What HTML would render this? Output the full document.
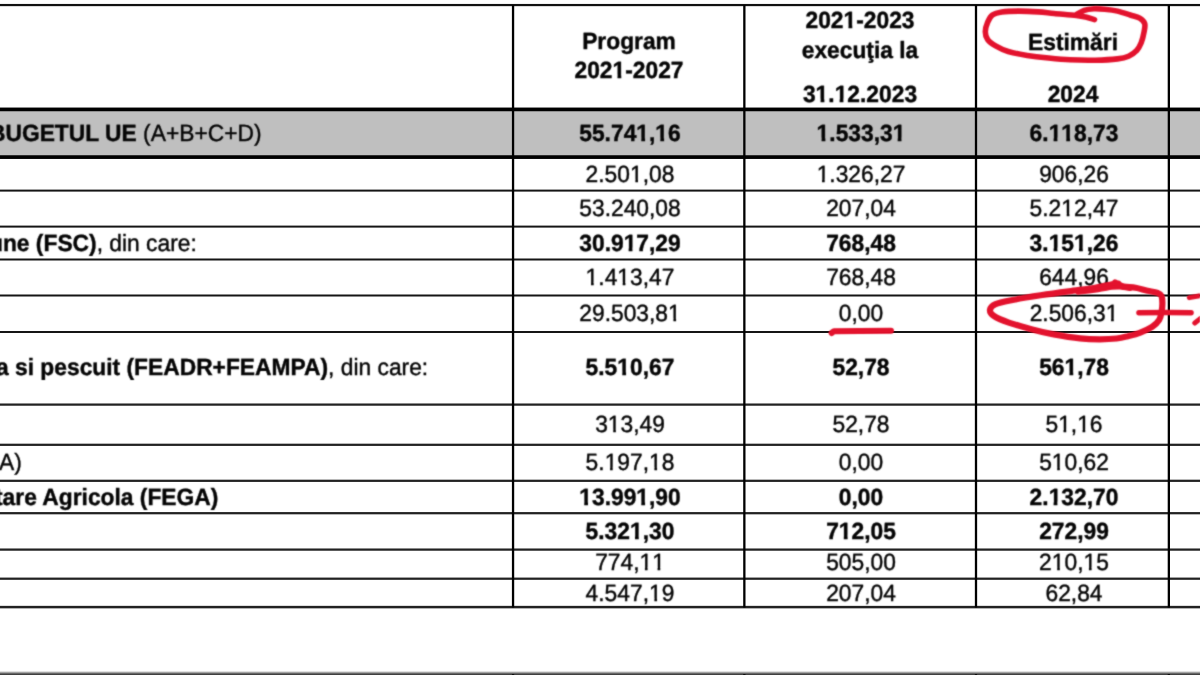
<!DOCTYPE html>
<html><head><meta charset="utf-8"><title>Tabel</title>
<style>
html,body{margin:0;padding:0;background:#fff;}
body{width:1200px;height:675px;overflow:hidden;position:relative;font-family:"Liberation Sans",sans-serif;color:#000;}
#bg,#pg{position:absolute;left:0;top:0;width:1200px;height:675px;}
#pg{filter:url(#soft);}
.h,.v,.t,.g{position:absolute;}
.t{font-size:22.8px;line-height:30px;height:30px;white-space:nowrap;font-kerning:none;color:#050505;-webkit-text-stroke:0.4px #050505;transform:matrix(1,0,0.0005,1.03,0,0);transform-origin:0 22.90px;}
.t i{display:inline-block;font-style:normal;clip-path:polygon(-1px -5px,14px -5px,14px 20.6px,8.05px 20.6px,8.05px 31px,5.43px 31px,5.43px 20.6px,-1px 20.6px);}
.t.b i{clip-path:polygon(-1px -5px,14px -5px,14px 19.8px,8.75px 19.8px,8.75px 31px,5.0px 31px,5.0px 19.8px,-1px 19.8px);}
.c{width:300px;margin-left:-150px;text-align:center;}
.b{font-weight:bold;}
.k{font-kerning:auto;}
svg{position:absolute;left:0;top:0;}
</style></head><body><svg width="0" height="0" style="position:absolute"><defs><filter id="soft" x="0" y="0" width="100%" height="100%" color-interpolation-filters="sRGB"><feConvolveMatrix order="3" kernelMatrix="0.04 0.1 0.04 0.1 0.44 0.1 0.04 0.1 0.04" edgeMode="duplicate" preserveAlpha="false"/></filter></defs></svg><div id="bg">
<div class="h" style="left:-20px;width:1240px;top:671px;height:24px;background:linear-gradient(to bottom,#ffffff 0px,#b0b0b0 1.3px,#6a6a6a 2.4px,#3c3c3c 3.6px,#333 24px)"></div>
<svg width="1200" height="675" viewBox="0 0 1200 675">
<rect x="-20" y="110" width="1240" height="46.5" fill="#bfbfbf"/>
<rect x="-20" y="3.95" width="1240" height="2.2" fill="#111"/>
<rect x="-20" y="107.55" width="1240" height="3.7" fill="#000"/>
<rect x="-20" y="155.25" width="1240" height="3.7" fill="#000"/>
<rect x="-20" y="189.6" width="1240" height="2" fill="#151515"/>
<rect x="-20" y="225.6" width="1240" height="2" fill="#151515"/>
<rect x="-20" y="258.5" width="1240" height="2" fill="#151515"/>
<rect x="-20" y="294.5" width="1240" height="2" fill="#151515"/>
<rect x="-20" y="331" width="1240" height="2" fill="#151515"/>
<rect x="-20" y="403.48" width="1240" height="2.25" fill="#222"/>
<rect x="-20" y="443.68" width="1240" height="2.25" fill="#222"/>
<rect x="-20" y="479.68" width="1240" height="2.25" fill="#222"/>
<rect x="-20" y="512.08" width="1240" height="2.25" fill="#222"/>
<rect x="-20" y="548.48" width="1240" height="2.25" fill="#222"/>
<rect x="-20" y="577.58" width="1240" height="2.25" fill="#222"/>
<rect x="-20" y="605.85" width="1240" height="2.5" fill="#222"/>
<rect x="511.9" y="5" width="2.3" height="602.5" fill="#000"/>
<rect x="743.2" y="5" width="2.3" height="602.5" fill="#000"/>
<rect x="974.85" y="5" width="2.3" height="602.5" fill="#000"/>
<rect x="1167.7" y="5" width="2.3" height="602.5" fill="#000"/>
<rect x="511.9" y="674.2" width="2.3" height="10" fill="#000"/>
<rect x="743.2" y="674.2" width="2.3" height="10" fill="#000"/>
<rect x="974.85" y="674.2" width="2.3" height="10" fill="#000"/>
<rect x="1167.7" y="674.2" width="2.3" height="10" fill="#000"/>
</svg>
</div><div id="pg">
<div class="t c b" style="left:628.7px;top:26.3px">Program</div>
<div class="t c b" style="left:628.7px;top:55.4px">202<i>1</i>-2027</div>
<div class="t c b" style="left:860.2px;top:4.7px">202<i>1</i>-2023</div>
<div class="t c b" style="left:860.2px;top:34.9px">execuţia la</div>
<div class="t c b" style="left:860.2px;top:78.6px">3<i>1</i>.<i>1</i>2.2023</div>
<div class="t c b" style="left:1073.2px;top:26.6px">Estimări</div>
<div class="t c b" style="left:1073.2px;top:78.6px">2024</div>
<div class="t c b" style="left:629.7px;top:118.2px">55.74<i>1</i>,<i>1</i>6</div>
<div class="t c b" style="left:861px;top:118.2px"><i>1</i>.533,3<i>1</i></div>
<div class="t c b" style="left:1074px;top:118.2px">6.<i>1</i><i>1</i>8,73</div>
<div class="t c" style="left:629.7px;top:159px">2.50<i>1</i>,08</div>
<div class="t c" style="left:861px;top:159px"><i>1</i>.326,27</div>
<div class="t c" style="left:1074px;top:159px">906,26</div>
<div class="t c" style="left:629.7px;top:193.4px">53.240,08</div>
<div class="t c" style="left:861px;top:193.4px">207,04</div>
<div class="t c" style="left:1074px;top:193.4px">5.2<i>1</i>2,47</div>
<div class="t c b" style="left:629.7px;top:227.6px">30.9<i>1</i>7,29</div>
<div class="t c b" style="left:861px;top:227.6px">768,48</div>
<div class="t c b" style="left:1074px;top:227.6px">3.<i>1</i>5<i>1</i>,26</div>
<div class="t c" style="left:629.7px;top:262.3px"><i>1</i>.4<i>1</i>3,47</div>
<div class="t c" style="left:861px;top:262.3px">768,48</div>
<div class="t c" style="left:1074px;top:262.3px">644,96</div>
<div class="t c" style="left:629.7px;top:298.2px">29.503,8<i>1</i></div>
<div class="t c" style="left:861px;top:298.2px">0,00</div>
<div class="t c" style="left:1074px;top:298.2px">2.506,3<i>1</i></div>
<div class="t c b" style="left:629.7px;top:352.4px">5.5<i>1</i>0,67</div>
<div class="t c b" style="left:861px;top:352.4px">52,78</div>
<div class="t c b" style="left:1074px;top:352.4px">56<i>1</i>,78</div>
<div class="t c" style="left:629.7px;top:408.7px">3<i>1</i>3,49</div>
<div class="t c" style="left:861px;top:408.7px">52,78</div>
<div class="t c" style="left:1074px;top:408.7px">5<i>1</i>,<i>1</i>6</div>
<div class="t c" style="left:629.7px;top:447.4px">5.<i>1</i>97,<i>1</i>8</div>
<div class="t c" style="left:861px;top:447.4px">0,00</div>
<div class="t c" style="left:1074px;top:447.4px">5<i>1</i>0,62</div>
<div class="t c b" style="left:629.7px;top:481.8px"><i>1</i>3.99<i>1</i>,90</div>
<div class="t c b" style="left:861px;top:481.8px">0,00</div>
<div class="t c b" style="left:1074px;top:481.8px">2.<i>1</i>32,70</div>
<div class="t c b" style="left:629.7px;top:515.9px">5.32<i>1</i>,30</div>
<div class="t c b" style="left:861px;top:515.9px">7<i>1</i>2,05</div>
<div class="t c b" style="left:1074px;top:515.9px">272,99</div>
<div class="t c" style="left:629.7px;top:547.2px">774,<i>1</i><i>1</i></div>
<div class="t c" style="left:861px;top:547.2px">505,00</div>
<div class="t c" style="left:1074px;top:547.2px">2<i>1</i>0,<i>1</i>5</div>
<div class="t c" style="left:629.7px;top:577.8px">4.547,<i>1</i>9</div>
<div class="t c" style="left:861px;top:577.8px">207,04</div>
<div class="t c" style="left:1074px;top:577.8px">62,84</div>
<div class="t k" style="left:-10.8px;top:118.2px"><b>BUGETUL UE</b> (A+B+C+D)</div>
<div class="t k" style="left:-11.3px;top:227.6px"><b>une (FSC)</b>, din care:</div>
<div class="t k" style="left:-4px;top:352.4px"><b>a si pescuit (FEADR+FEAMPA)</b>, din care:</div>
<div class="t k" style="left:-1.5px;top:447.4px">A)</div>
<div class="t k" style="left:-4.7px;top:481.8px"><b>tare Agricola (FEGA)</b></div>
<svg width="1200" height="675" viewBox="0 0 1200 675" fill="none" stroke="#e3122d" stroke-linecap="round" stroke-linejoin="round">
<path stroke-width="5.6" d="M1094.5 19.6 C1093.0 19.2 1088.8 17.8 1085.8 17.1 C1082.8 16.4 1081.6 16.1 1076.3 15.5 C1071.0 14.9 1060.5 14.1 1054.2 13.5 C1047.9 12.9 1044.1 12.3 1038.3 11.9 C1032.5 11.5 1025.4 11.1 1019.3 11.1 C1013.2 11.1 1006.4 11.2 1001.9 11.9 C997.4 12.6 994.8 13.3 992.4 15.0 C990.0 16.7 988.9 19.4 987.7 22.2 C986.5 25.0 985.3 28.8 985.3 31.7 C985.3 34.6 986.0 37.2 987.7 39.6 C989.4 42.0 992.2 43.9 995.6 45.9 C999.0 47.9 1002.9 49.9 1008.2 51.5 C1013.5 53.1 1020.9 54.4 1027.2 55.4 C1033.5 56.4 1039.1 57.1 1046.2 57.8 C1053.3 58.5 1061.8 59.4 1070.0 59.8 C1078.2 60.2 1087.4 60.4 1095.3 60.2 C1103.2 60.1 1112.0 59.6 1117.5 58.9 C1123.0 58.2 1125.4 57.6 1128.6 56.2 C1131.8 54.8 1134.4 53.0 1136.5 50.7 C1138.6 48.5 1139.9 45.9 1141.2 42.7 C1142.5 39.5 1143.5 34.9 1144.1 31.7 C1144.7 28.5 1145.4 25.9 1144.7 23.7 C1144.0 21.4 1142.1 19.6 1139.7 18.2 C1137.3 16.8 1133.9 16.2 1130.2 15.0 C1126.5 13.8 1121.7 12.1 1117.5 11.1 C1113.3 10.1 1108.8 9.6 1104.8 9.2 C1100.8 8.8 1097.1 8.5 1093.7 8.7 C1090.3 8.9 1087.2 9.2 1084.2 10.3 C1081.2 11.4 1077.0 14.4 1075.5 15.2"/>
<path stroke-width="6.2" d="M1119.0 285.4 C1118.5 285.1 1120.2 283.1 1116.2 283.5 C1112.2 283.9 1102.9 286.5 1095.0 287.8 C1087.1 289.1 1077.9 290.1 1068.8 291.4 C1059.7 292.6 1050.0 293.9 1040.6 295.3 C1031.2 296.7 1020.0 298.5 1012.5 300.0 C1005.0 301.5 999.4 302.5 995.6 304.1 C991.9 305.7 990.3 307.8 990.0 309.8 C989.7 311.8 990.7 313.8 993.8 315.9 C996.9 318.0 1002.5 320.4 1008.8 322.6 C1015.0 324.8 1023.8 327.2 1031.3 329.2 C1038.8 331.2 1045.7 332.9 1053.8 334.4 C1061.9 335.9 1072.3 337.6 1080.0 338.4 C1087.7 339.2 1093.9 339.3 1100.0 339.3 C1106.1 339.3 1112.0 339.0 1116.6 338.5 C1121.1 338.0 1123.3 337.4 1127.3 336.4 C1131.2 335.4 1136.2 334.2 1140.3 332.6 C1144.4 331.0 1148.9 329.0 1152.1 326.9 C1155.2 324.8 1157.6 322.4 1159.2 319.8 C1160.8 317.2 1161.1 314.3 1161.6 311.5 C1162.1 308.7 1162.4 305.8 1162.4 303.2 C1162.4 300.6 1162.2 297.5 1161.4 295.8 C1160.6 294.1 1159.8 293.8 1157.5 292.9 C1155.2 292.0 1151.1 291.5 1147.4 290.7 C1143.7 289.9 1139.5 288.5 1135.5 287.8 C1131.5 287.1 1126.8 287.1 1123.7 286.4 C1120.6 285.7 1118.2 284.1 1116.8 283.4 C1115.3 282.7 1115.3 282.6 1115.0 282.4"/>
<path stroke-width="4.5" d="M1078.0 292.6 C1081.3 292.2 1092.3 290.8 1098.0 290.0 C1103.7 289.2 1108.3 288.1 1112.0 287.6 C1115.7 287.1 1117.0 287.0 1120.0 287.2 C1123.0 287.4 1128.3 288.5 1130.0 288.8"/>
<path stroke-width="6" d="M891 330.7 L860 331 L834 331.2 L831.6 333"/>
<path stroke-width="5.6" d="M1139 312.8 C1160 312.3 1180 312.5 1191 312.7"/>
<path stroke-width="5" d="M1189.3 297.6 L1203 295.2 M1194.8 323 L1203 316.6"/>
</svg>
</div></body></html>
